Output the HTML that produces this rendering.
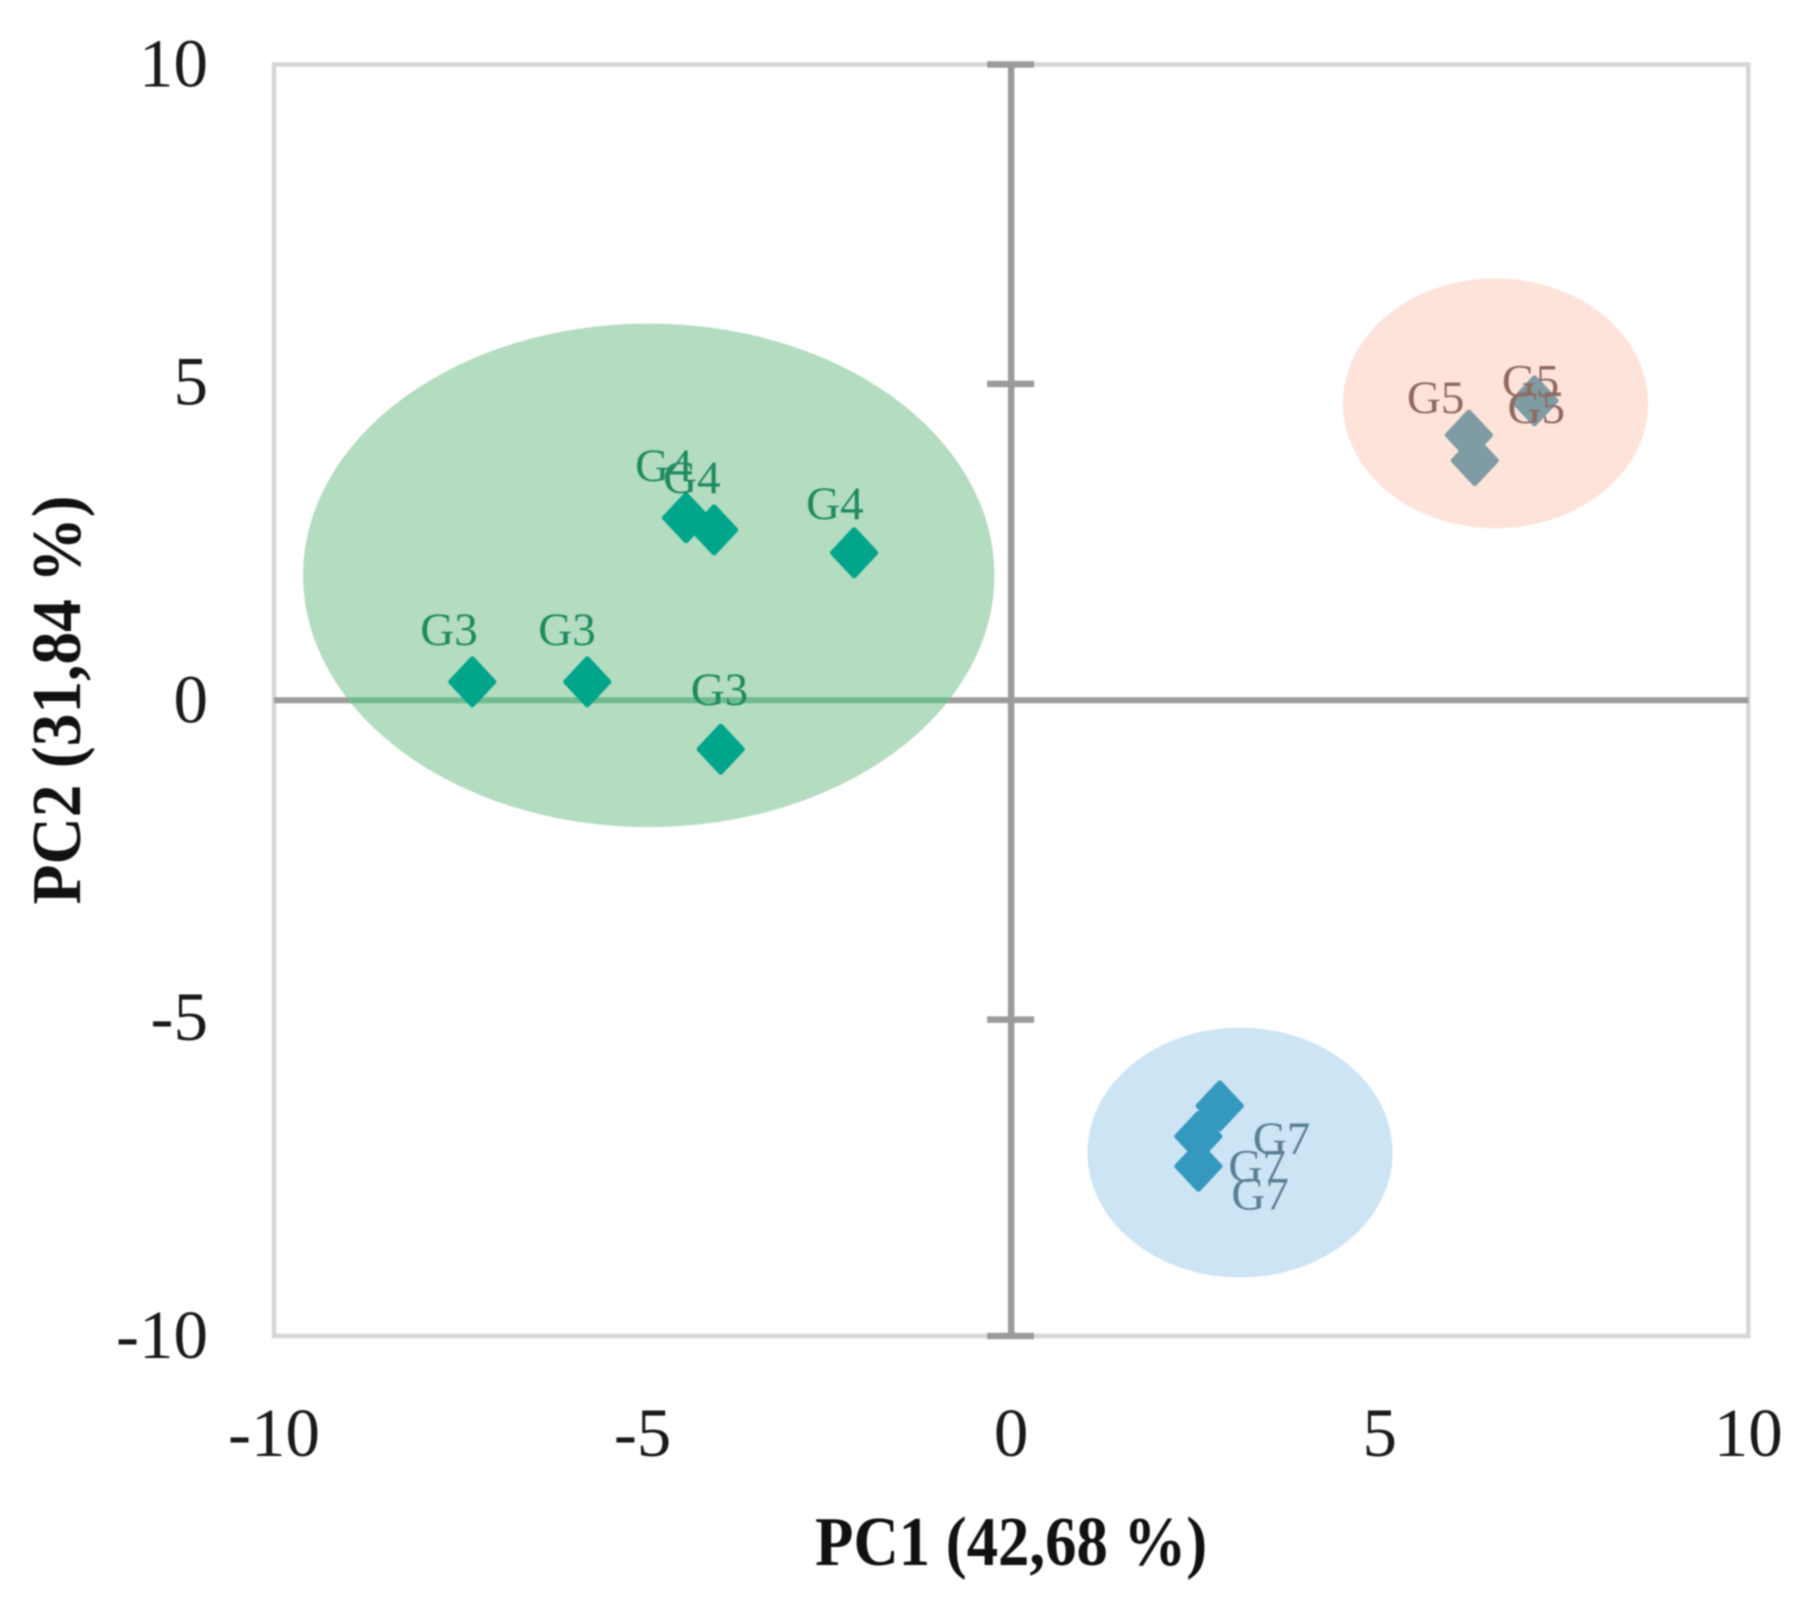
<!DOCTYPE html>
<html lang="en">
<head>
<meta charset="utf-8">
<title>PCA score plot</title>
<style>
  html, body { margin: 0; padding: 0; background: #ffffff; }
  body { width: 1814px; height: 1607px; overflow: hidden; }
  svg { display: block; filter: blur(0.7px); }
  text { font-family: "Liberation Serif", serif; }
</style>
</head>
<body>
<svg id="chart" xmlns="http://www.w3.org/2000/svg" width="1814" height="1607" viewBox="0 0 1814 1607"></svg>
<script>
// ---- Data ----
const xTickValues = [-10, -5, 0, 5, 10];
const yTickValues = [-10, -5, 0, 5, 10];
const xTitle = "PC1 (42,68 %)";
const yTitle = "PC2 (31,84 %)";

const greenPc1 = [-7.31, -5.75, -3.94, -4.41, -4.03, -2.13];
const greenPc2 = [0.29, 0.29, -0.77, 2.87, 2.68, 2.32];
const greenLabels = ["G3", "G3", "G3", "G4", "G4", "G4"];

const pinkPc1 = [6.21, 6.29, 7.10];
const pinkPc2 = [4.17, 3.77, 4.71];
const pinkLabels = ["G5", "G5", "G5"];

const bluePc1 = [2.83, 2.54, 2.54];
const bluePc2 = [-6.38, -6.86, -7.33];
const blueLabels = ["G7", "G7", "G7"];

const clusterCenterPc1 = [-4.916, 6.57, 3.105];
const clusterCenterPc2 = [1.965, 4.67, -7.115];
const clusterRadiusPc1 = [4.69, 2.07, 2.07];
const clusterRadiusPc2 = [3.96, 1.965, 1.965];

// ---- Layout (separate from data) ----
const plot = { left: 274, right: 1748.3, top: 64.5, bottom: 1336 };
const xMin = -10, xMax = 10, yMin = -10, yMax = 10;
const greenLabelShift = [[-52,-37],[-49,-37],[-30,-44],[-51,-37],[-51,-37],[-48,-34]];
const pinkLabelShift = [[-62,-22],[27,-64],[-27,22]];
const blueLabelShift = [[33,48],[30,45],[33,43]];

const sx = v => plot.left + (v - xMin) / (xMax - xMin) * (plot.right - plot.left);
const sy = v => plot.bottom - (v - yMin) / (yMax - yMin) * (plot.bottom - plot.top);
const svg = document.getElementById('chart');
const NS = 'http://www.w3.org/2000/svg';

function make(tag, attrs, parent) {
  const el = document.createElementNS(NS, tag);
  for (const k in attrs) el.setAttribute(k, attrs[k]);
  (parent || svg).appendChild(el);
  return el;
}

// Background
const bg = make('rect', { x: 0, y: 0, width: 1814, height: 1607, fill: '#ffffff' });



// Plot frame
const frame = make('rect', {
  x: plot.left, y: plot.top,
  width: plot.right - plot.left, height: plot.bottom - plot.top,
  fill: '#ffffff', stroke: '#d6d6d6', 'stroke-width': 4.5
});



// Axes
const axisColor = '#9b9b9b';
const xAxis = make('line', { x1: plot.left, x2: plot.right, y1: sy(0), y2: sy(0), stroke: axisColor, 'stroke-width': 6 });


const yAxis = make('line', { x1: sx(0), x2: sx(0), y1: plot.top, y2: plot.bottom, stroke: axisColor, 'stroke-width': 6.5 });



// Y-axis tick marks crossing the vertical axis
yTickValues.forEach(v => {
  if (v === 0) return;
  const nudge = Math.abs(v) === 5 ? 1.5 : 0;
  const t = make('line', { x1: sx(0) - 24, x2: sx(0) + 23, y1: sy(v) + nudge, y2: sy(v) + nudge, stroke: axisColor, 'stroke-width': 6.5 });
  
  
});

// Cluster ellipses
const clusterFills = ['#b3dcc0', '#fee3da', '#cde4f5'];
const clusterNames = ['cluster-g3-g4', 'cluster-g5', 'cluster-g7'];
clusterCenterPc1.forEach((c, i) => {
  const cx = sx(c), cy = sy(clusterCenterPc2[i]);
  const rx = sx(c + clusterRadiusPc1[i]) - cx, ry = cy - sy(clusterCenterPc2[i] + clusterRadiusPc2[i]);
  const e = make('ellipse', { cx, cy, rx, ry, fill: clusterFills[i] });
  
  
  if (i === 0) {
    // axis seen through the translucent green cluster
    const defs = make('defs', {});
    const clip = make('clipPath', { id: 'green-clip' }, defs);
    make('ellipse', { cx, cy, rx, ry }, clip);
    const tinted = make('line', { x1: plot.left, x2: plot.right, y1: sy(0), y2: sy(0), stroke: '#70ba90', 'stroke-width': 6, 'clip-path': 'url(#green-clip)' });
    
    
  }
});

// Series
function drawSeries(xs, ys, labels, shifts, markerFill, labelFill, name) {
  const markers = make('g', {});
  
  
  xs.forEach((v, i) => {
    const x = sx(v), y = sy(ys[i]);
    const hw = 21.5, hh = 23;
    const p = make('polygon', {
      points: `${x},${y - hh} ${x + hw},${y} ${x},${y + hh} ${x - hw},${y}`,
      fill: markerFill, stroke: markerFill, 'stroke-width': 5, 'stroke-linejoin': 'round'
    }, markers);
    
    
  });
  const texts = make('g', {});
  
  
  xs.forEach((v, i) => {
    const t = make('text', {
      x: sx(v) + shifts[i][0], y: sy(ys[i]) + shifts[i][1],
      'font-size': 47, fill: labelFill
    }, texts);
    t.textContent = labels[i];
    
    
  });
}
drawSeries(greenPc1, greenPc2, greenLabels, greenLabelShift, '#00a58a', '#1f8a60', 'series-g3-g4');
drawSeries(pinkPc1, pinkPc2, pinkLabels, pinkLabelShift, '#7f9ba3', '#8f6b5f', 'series-g5');
drawSeries(bluePc1, bluePc2, blueLabels, blueLabelShift, '#3498bf', '#5b7f94', 'series-g7');

// Tick labels
xTickValues.forEach(v => {
  const t = make('text', { x: sx(v), y: 1456, 'font-size': 69, 'text-anchor': 'middle', fill: '#1a1a1a' });
  t.textContent = String(v);
  
  
});
yTickValues.forEach(v => {
  const t = make('text', { x: 208, y: sy(v) + 22, 'font-size': 69, 'text-anchor': 'end', fill: '#1a1a1a' });
  t.textContent = String(v);
  
  
});

// Axis titles
const xt = make('text', {
  x: sx(0), y: 1565, 'font-size': 70, 'font-weight': 'bold', 'text-anchor': 'middle',
  fill: '#111111', textLength: 392, lengthAdjust: 'spacingAndGlyphs'
});
xt.textContent = xTitle;



const yt = make('text', {
  x: 0, y: 0, 'font-size': 70, 'font-weight': 'bold', 'text-anchor': 'middle',
  fill: '#111111', textLength: 409, lengthAdjust: 'spacingAndGlyphs',
  transform: 'translate(80 700) rotate(-90)'
});
yt.textContent = yTitle;


</script>
</body>
</html>
